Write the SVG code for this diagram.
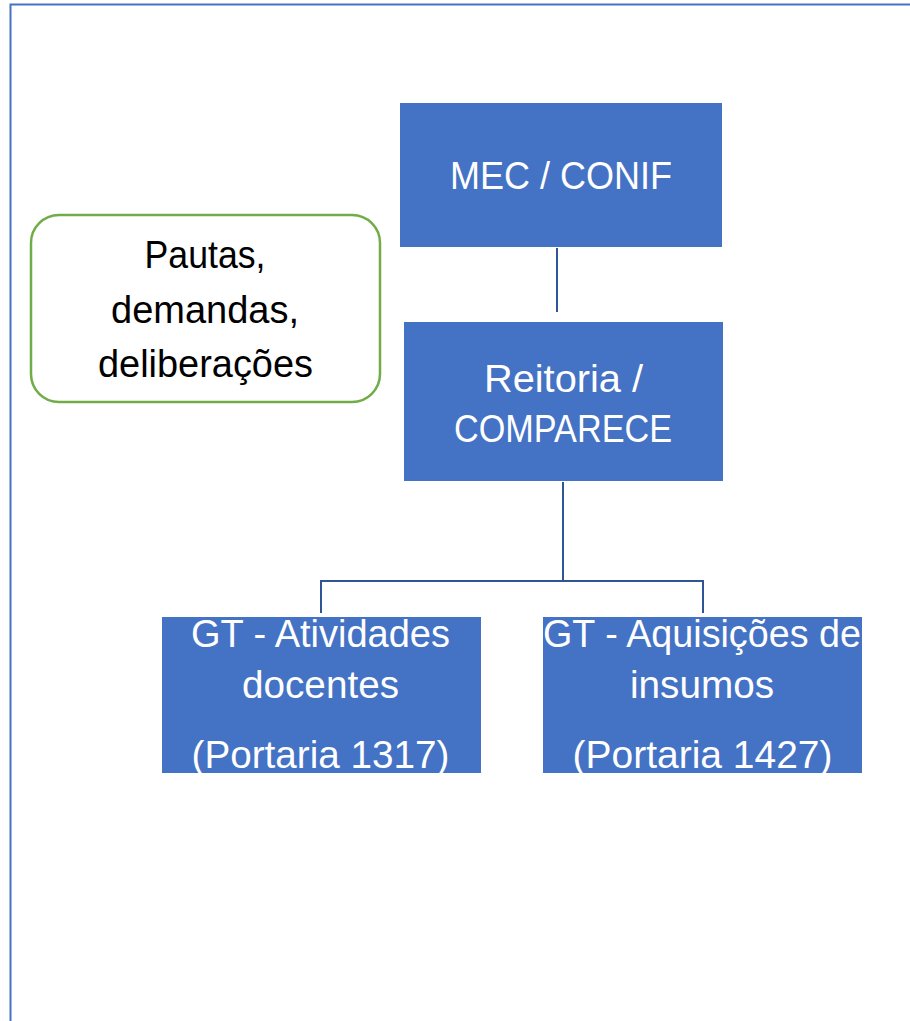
<svg xmlns="http://www.w3.org/2000/svg" width="910" height="1021" viewBox="0 0 910 1021">
<style>
.box{fill:#4472C4;}
.wt{fill:#FFFFFF;font-family:"Liberation Sans",Arial,sans-serif;font-size:38px;text-anchor:middle;}
.bt{fill:#000000;font-family:"Liberation Sans",Arial,sans-serif;font-size:38px;text-anchor:middle;}
.conn{fill:none;stroke:#2F5597;stroke-width:2;}
.frame{fill:none;stroke:#4472C4;stroke-width:2;}
</style>
<rect width="910" height="1021" fill="#FFFFFF"/>
<path class="frame" d="M10.5,1021 V4.5 H910"/>
<g id="connectors">
<line class="conn" x1="557" y1="248" x2="557" y2="312"/>
<path class="conn" d="M563,482 V581 M321,613 V581 H703 V613"/>
</g>
<g id="mec">
<rect class="box" x="400" y="103" width="322" height="144"/>
<text class="wt" x="561" y="189" textLength="222" lengthAdjust="spacingAndGlyphs">MEC / CONIF</text>
</g>
<g id="reitoria">
<rect class="box" x="404" y="322" width="319" height="159"/>
<text class="wt" x="563.5" y="392" textLength="159" lengthAdjust="spacingAndGlyphs">Reitoria /</text>
<text class="wt" x="563" y="442" textLength="218" lengthAdjust="spacingAndGlyphs">COMPARECE</text>
</g>
<g id="pautas">
<rect x="31" y="215" width="349" height="187" rx="28" ry="28" fill="#FFFFFF" stroke="#70AD47" stroke-width="2.5"/>
<text class="bt" x="205" y="268" textLength="121" lengthAdjust="spacingAndGlyphs">Pautas,</text>
<text class="bt" x="205" y="323" textLength="188" lengthAdjust="spacingAndGlyphs">demandas,</text>
<text class="bt" x="205.5" y="377" textLength="215" lengthAdjust="spacingAndGlyphs">deliberações</text>
</g>
<g id="gt-atividades">
<rect class="box" x="162" y="617" width="319" height="156"/>
<text class="wt" x="320.5" y="647" textLength="259" lengthAdjust="spacingAndGlyphs">GT - Atividades</text>
<text class="wt" x="320.5" y="698" textLength="157" lengthAdjust="spacingAndGlyphs">docentes</text>
<text class="wt" x="320.5" y="768" textLength="258" lengthAdjust="spacingAndGlyphs">(Portaria 1317)</text>
</g>
<g id="gt-aquisicoes">
<rect class="box" x="543" y="617" width="319" height="156"/>
<text class="wt" x="702" y="647" textLength="318" lengthAdjust="spacingAndGlyphs">GT - Aquisições de</text>
<text class="wt" x="702" y="698" textLength="144" lengthAdjust="spacingAndGlyphs">insumos</text>
<text class="wt" x="702.5" y="768" textLength="260" lengthAdjust="spacingAndGlyphs">(Portaria 1427)</text>
</g>
</svg>
